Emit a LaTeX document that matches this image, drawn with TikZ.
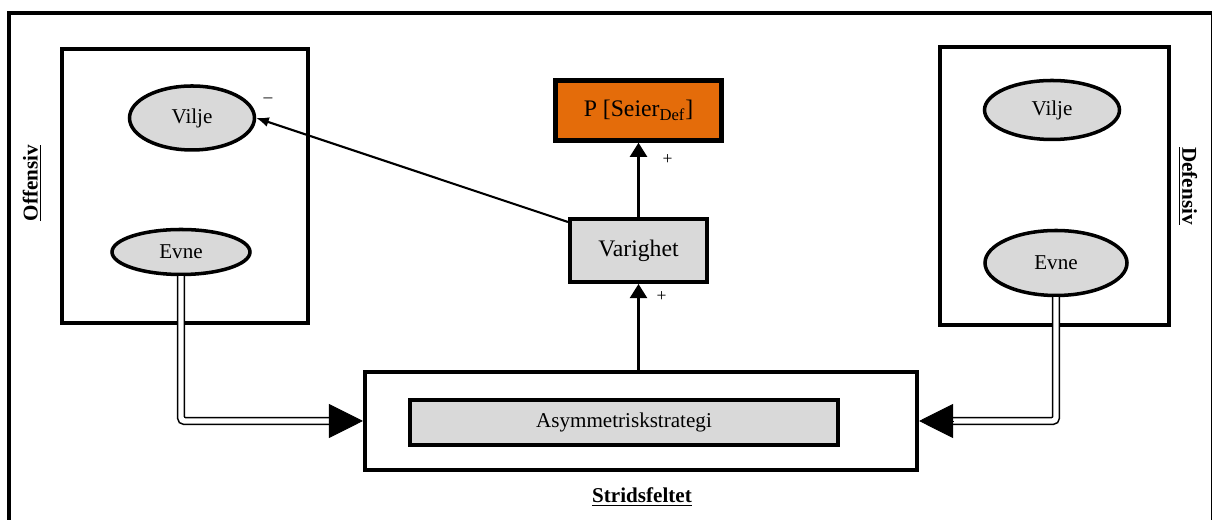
\documentclass[tikz,border=0pt]{standalone}
\usepackage{fontspec}
\setmainfont{Liberation Serif}
\usepackage{tikz}
\usetikzlibrary{calc}
\usetikzlibrary{arrows.meta}
\usetikzlibrary{shapes.geometric}

\definecolor{oransje}{HTML}{E46C0A}
\definecolor{graa}{HTML}{D9D9D9}

\begin{document}
\begin{tikzpicture}[
	ramme/.style= {draw, line width= 2.3pt, inner sep= 0pt},
	boble/.style= {ellipse, draw, line width= 2pt, fill= graa, inner sep= 0pt, font= \fontsize{12}{14}\selectfont},
	pil/.style= {line width= 1.2pt, arrows= -{Triangle[length= 0.28cm, width= 0.34cm]}},
	dobbel/.style= {double, double distance= 3pt, line width= 0.9pt, rounded corners= 2pt},
	stor/.style= {line width= 0.5pt, arrows= -{Triangle[length= 0.68cm, width= 0.68cm]}},
	tittel/.style= {font= \fontsize{12}{14}\selectfont\bfseries},
	tegn/.style= {font= \fontsize{10}{12}\selectfont, inner sep= 0pt}
]
	\useasboundingbox (0,0) rectangle (24.24,10.4);
	% ramme
	\draw [line width= 2.3pt] (0.18,-0.5) rectangle (24.26,10.14);

	% offensiv
	\node [ramme, minimum width= 4.92cm, minimum height= 5.48cm] (offBoks) at (3.7,6.68) {};
	\node [boble, minimum width= 2.5cm, minimum height= 1.28cm] (viljeOff) at (3.84,8.04) {Vilje};
	\node [boble, minimum width= 2.76cm, minimum height= 0.9cm] (evneOff) at (3.62,5.36) {Evne};
	\node [tittel, rotate= 90] (offTekst) at (0.64,6.74) {\underline{Offensiv}};

	% defensiv
	\node [ramme, minimum width= 4.58cm, minimum height= 5.56cm] (defBoks) at (21.09,6.68) {};
	\node [boble, minimum width= 2.7cm, minimum height= 1.18cm] (viljeDef) at (21.04,8.2) {Vilje};
	\node [boble, minimum width= 2.84cm, minimum height= 1.3cm] (evneDef) at (21.12,5.14) {Evne};
	\node [tittel, rotate= -90] (defTekst) at (23.76,6.68) {\underline{Defensiv}};

	% midten
	\node [ramme, line width= 2.6pt, fill= oransje, minimum width= 3.32cm, minimum height= 1.2cm, font= \fontsize{13.5}{16}\selectfont] (seier) at (12.77,8.19) {P [Seier\textsubscript{Def}]};
	\node [ramme, fill= graa, minimum width= 2.74cm, minimum height= 1.26cm, font= \fontsize{13.5}{16}\selectfont] (varighet) at (12.77,5.39) {Varighet};

	% stridsfeltet
	\node [ramme, minimum width= 11.04cm, minimum height= 1.96cm] (strid) at (12.82,1.98) {};
	\node [ramme, fill= graa, minimum width= 8.56cm, minimum height= 0.9cm, font= \fontsize{12}{14}\selectfont] (asym) at (12.48,1.95) {Asymmetriskstrategi};
	\node [tittel] (stridTekst) at (12.84,0.46) {\underline{Stridsfeltet}};

	% piler
	\draw [pil] (varighet) -- (seier) node [tegn, pos= 0.77, xshift= 0.58cm] (plussA) {+};
	\draw [pil] (strid.north -| varighet.south) -- (varighet.south) node [tegn, pos= 0.85, xshift= 0.46cm] (plussB) {+};
	\draw [line width= 1.2pt, arrows= -{Latex[length= 0.25cm, width= 0.2cm]}] ([yshift= -0.1cm]varighet.north west) -- (viljeOff.east);
	\node [tegn] (minus) at (5.36,8.4) {--};

	% doble piler inn i stridsfeltet
	\draw [dobbel, shorten >= 0.66cm] (evneOff.south) |- (strid.west);
	\draw [stor] ([xshift= -0.68cm]strid.west) -- (strid.west);
	\draw [dobbel, shorten >= 0.64cm] (evneDef.south) |- (strid.east);
	\draw [stor] ([xshift= 0.68cm]strid.east) -- (strid.east);
\end{tikzpicture}
\end{document}
